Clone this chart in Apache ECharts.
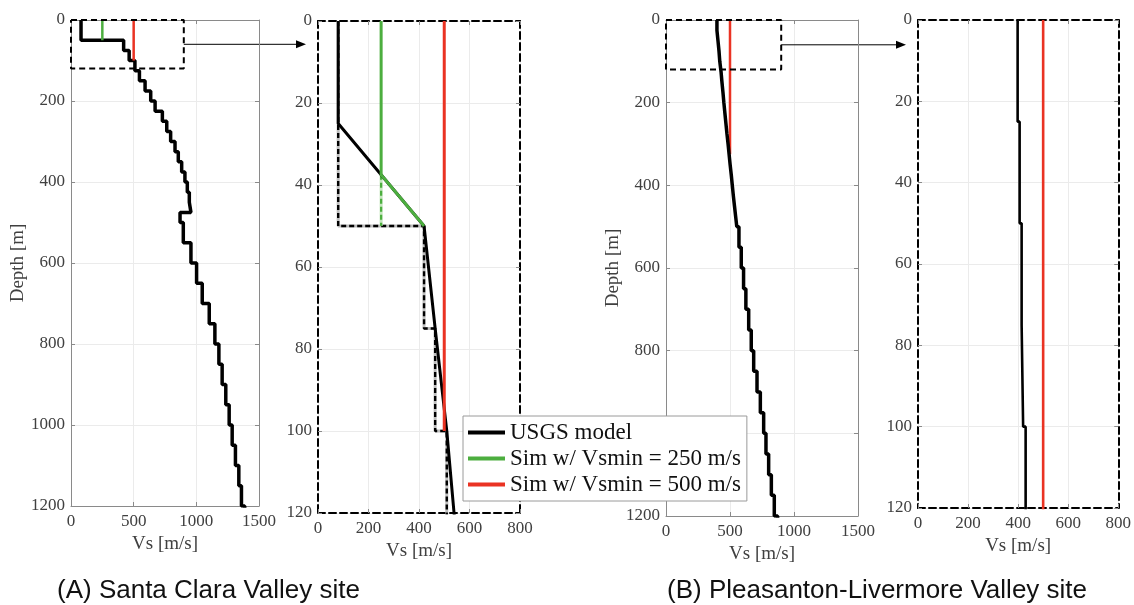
<!DOCTYPE html>
<html>
<head>
<meta charset="utf-8">
<script src="https://cdn.jsdelivr.net/npm/echarts@6/dist/echarts.min.js"></script>
<style>
  html, body { margin: 0; padding: 0; background: #fff; }
  #chart { width: 1134px; height: 605px; }
</style>
</head>
<body>
<div id="chart"></div>
<script>
// ---- Santa Clara Valley: USGS layered Vs profile (layer top depth [m], Vs [m/s]) ----
const scvLayerTop = [0, 50, 75, 100, 125, 150, 175, 200, 225, 250, 275, 300, 325, 350, 375, 400,
  425, 450, 475, 500, 550, 600, 650, 700, 750, 800, 850, 900, 950, 1000, 1050, 1100, 1150, 1200];
const scvLayerVs = [80, 420, 464, 510, 546, 591, 636, 671, 729, 764, 795, 830, 856, 883, 909, 928,
  944, 957, 870, 896, 957, 1002, 1047, 1103, 1148, 1180, 1206, 1235, 1262, 1286, 1312, 1339, 1360, 1386];
// interpolated near-surface profile used in the simulation grid
const scvInterpDepth = [0, 25, 50, 75, 100, 125];
const scvInterpVs = [80, 80, 420, 464, 510, 546];
// simulations with a minimum Vs floor
const scvSim250Depth = [0, 50];
const scvSim250Vs = [250, 250];
const scvSim250InterpDepth = [0, 37.5, 50];
const scvSim250InterpVs = [250, 250, 420];
const scvSim250StepDepth = [37.5, 50];
const scvSim250StepVs = [250, 250];
const scvSim500Depth = [0, 100];
const scvSim500Vs = [500, 500];

// ---- Pleasanton-Livermore Valley: USGS layered Vs profile ----
const plvLayerTop = [0, 25, 50, 75, 100, 125, 150, 175, 200, 225, 250, 275, 300, 325, 350, 375, 400,
  425, 450, 475, 500, 550, 600, 650, 700, 750, 800, 850, 900, 950, 1000, 1050, 1100, 1150, 1200];
const plvLayerVs = [398, 406, 414, 420, 430, 437, 445, 452, 460, 468, 476, 485, 493, 501, 510, 518, 526,
  535, 544, 553, 570, 588, 606, 624, 646, 666, 685, 711, 737, 763, 781, 802, 823, 846, 872];
const plvSim500Depth = [0, 325];
const plvSim500Vs = [500, 500];

// zoom window drawn on the full-depth panels
const zoomWinVs = [0, 900];
const zoomWinDepth = [0, 120];

// axis ranges / ticks
const fullVsTicks = { max: 1500, interval: 500 };
const fullDepthTicks = { max: 1200, interval: 200 };
const zoomVsTicks = { max: 800, interval: 200 };
const zoomDepthTicks = { max: 120, interval: 20 };

const captions = ['(A) Santa Clara Valley site', '(B) Pleasanton-Livermore Valley site'];
const legendNames = ['USGS model', 'Sim w/ Vsmin = 250 m/s', 'Sim w/ Vsmin = 500 m/s'];

const GREEN = '#4cae3f';
const RED = '#ea3323';
const SERIF = 'Liberation Serif';

function pairs(xs, ys) { return xs.map((x, i) => [x, ys[i]]); }
function stepPath(tops, vs, lastBottom) {
  const pts = [];
  for (let i = 0; i < tops.length; i++) {
    const bot = i + 1 < tops.length ? tops[i + 1] : lastBottom;
    pts.push([vs[i], tops[i]], [vs[i], bot]);
  }
  return pts;
}
function boxPath(xr, yr) {
  return [[xr[0], yr[0]], [xr[1], yr[0]], [xr[1], yr[1]], [xr[0], yr[1]], [xr[0], yr[0]]];
}

const grids = [
  { left: 71, top: 20, width: 188, height: 486 },
  { left: 318, top: 21, width: 202, height: 492 },
  { left: 666, top: 20, width: 192, height: 496 },
  { left: 918, top: 20, width: 201, height: 488 }
];

const solidFrame = { lineStyle: { color: '#8a8a8a', width: 1 } };
const dashedFrame = { lineStyle: { color: '#000', width: 2, type: [7, 4] } };
const tick = { inside: true, length: 4, lineStyle: { color: '#8a8a8a' } };
const grid = { show: true, lineStyle: { color: '#ebebeb', width: 1 } };
const tickLabel = { fontFamily: SERIF, fontSize: 17, color: '#404040', formatter: v => String(v) };

function frameLine(frame) { return Object.assign({ show: true, onZero: false }, frame); }

function xAxes(gi, ticks, frame, nameGap) {
  return [
    { type: 'value', gridIndex: gi, position: 'bottom', min: 0, max: ticks.max, interval: ticks.interval,
      axisLine: frameLine(frame), axisTick: tick, splitLine: grid,
      axisLabel: Object.assign({ margin: 7 }, tickLabel),
      name: 'Vs [m/s]', nameLocation: 'middle', nameGap: nameGap,
      nameTextStyle: { fontFamily: SERIF, fontSize: 19, color: '#404040' } },
    { type: 'value', gridIndex: gi, position: 'top', min: 0, max: ticks.max, interval: ticks.interval,
      axisLine: frameLine(frame), axisTick: tick, splitLine: { show: false },
      axisLabel: { show: false } }
  ];
}
function yAxes(gi, ticks, frame, name, nameGap) {
  return [
    { type: 'value', gridIndex: gi, position: 'left', inverse: true, min: 0, max: ticks.max, interval: ticks.interval,
      axisLine: frameLine(frame), axisTick: tick, splitLine: grid,
      axisLabel: Object.assign({ margin: 6 }, tickLabel),
      name: name, nameLocation: 'middle', nameGap: nameGap, nameRotate: 90,
      nameTextStyle: { fontFamily: SERIF, fontSize: 19, color: '#404040' } },
    { type: 'value', gridIndex: gi, position: 'right', inverse: true, min: 0, max: ticks.max, interval: ticks.interval,
      axisLine: frameLine(frame), axisTick: tick, splitLine: { show: false },
      axisLabel: { show: false } }
  ];
}

const xAxis = [].concat(
  xAxes(0, fullVsTicks, solidFrame, 28),
  xAxes(1, zoomVsTicks, dashedFrame, 27),
  xAxes(2, fullVsTicks, solidFrame, 29),
  xAxes(3, zoomVsTicks, dashedFrame, 27)
);
const yAxis = [].concat(
  yAxes(0, fullDepthTicks, solidFrame, 'Depth [m]', 32),
  yAxes(1, zoomDepthTicks, dashedFrame, '', 32),
  yAxes(2, fullDepthTicks, solidFrame, 'Depth [m]', 35),
  yAxes(3, zoomDepthTicks, dashedFrame, '', 32)
);

// panel p uses xAxis 2p and yAxis 2p
function line(p, data, color, width, extra) {
  return Object.assign({
    type: 'line', xAxisIndex: 2 * p, yAxisIndex: 2 * p, data: data,
    symbol: 'none', showSymbol: false, silent: true, animation: false,
    lineStyle: { color: color, width: width }, itemStyle: { color: color }
  }, extra || {});
}

const series = [
  // (A) full depth
  line(0, stepPath(scvLayerTop, scvLayerVs, 1250), '#000', 3.5, { name: legendNames[0] }),
  line(0, pairs(scvSim250Vs, scvSim250Depth), GREEN, 2.5, { name: legendNames[1] }),
  line(0, pairs(scvSim500Vs, scvSim500Depth), RED, 2.5, { name: legendNames[2] }),
  line(0, boxPath(zoomWinVs, zoomWinDepth), '#000', 2, { clip: false, lineStyle: { color: '#000', width: 2, type: [6, 4] } }),

  // (A) top 120 m
  line(1, stepPath(scvLayerTop, scvLayerVs, 1250), '#bdbdbd', 3),
  line(1, stepPath(scvLayerTop, scvLayerVs, 1250), '#000', 2.4, { lineStyle: { color: '#000', width: 2.4, type: [5, 3] } }),
  line(1, pairs(scvSim250StepVs, scvSim250StepDepth), '#c4e6bd', 3),
  line(1, pairs(scvSim250StepVs, scvSim250StepDepth), GREEN, 2.2, { lineStyle: { color: GREEN, width: 2.2, type: [5, 3] } }),
  line(1, pairs(scvInterpVs, scvInterpDepth), '#000', 3, { name: legendNames[0] }),
  line(1, pairs(scvSim250InterpVs, scvSim250InterpDepth), GREEN, 3, { name: legendNames[1] }),
  line(1, pairs(scvSim500Vs, scvSim500Depth), RED, 3, { name: legendNames[2] }),

  // (B) full depth
  line(2, pairs(plvSim500Vs, plvSim500Depth), RED, 2.5, { name: legendNames[2] }),
  line(2, stepPath(plvLayerTop, plvLayerVs, 1250), '#000', 3.5, { name: legendNames[0] }),
  line(2, boxPath(zoomWinVs, zoomWinDepth), '#000', 2, { clip: false, lineStyle: { color: '#000', width: 2, type: [6, 4] } }),

  // (B) top 120 m
  line(3, stepPath(plvLayerTop, plvLayerVs, 1250), '#000', 2.6, { name: legendNames[0] }),
  line(3, pairs(plvSim500Vs, plvSim500Depth), RED, 2.6, { name: legendNames[2] })
];

const chart = echarts.init(document.getElementById('chart'), null, { renderer: 'canvas' });
chart.setOption({
  animation: false,
  backgroundColor: '#fff',
  grid: grids,
  xAxis: xAxis,
  yAxis: yAxis,
  legend: {
    data: legendNames.map(n => ({ name: n, icon: 'rect' })),
    orient: 'vertical', left: 463, top: 416,
    itemWidth: 37, itemHeight: 4, itemGap: 3,
    padding: [5, 6, 5, 5],
    backgroundColor: '#fff', borderColor: '#9a9a9a', borderWidth: 1,
    selectedMode: false,
    textStyle: { fontFamily: SERIF, fontSize: 23, color: '#111' }
  },
  series: series
});

// zoom arrows from each window to its enlarged panel, plus panel captions
function arrow(fromGrid, toGrid) {
  const start = chart.convertToPixel({ gridIndex: fromGrid }, [zoomWinVs[1], (zoomWinDepth[0] + zoomWinDepth[1]) / 2]);
  const tipX = chart.convertToPixel({ gridIndex: toGrid }, [0, 0])[0] - 12;
  const y = start[1];
  return [
    { type: 'line', shape: { x1: start[0], y1: y, x2: tipX - 8, y2: y }, style: { stroke: '#000', lineWidth: 1 } },
    { type: 'polygon', shape: { points: [[tipX, y], [tipX - 10, y - 4], [tipX - 10, y + 4]] }, style: { fill: '#000' } }
  ];
}
chart.setOption({
  graphic: [].concat(
    arrow(0, 1),
    arrow(2, 3),
    [
      { type: 'text', x: 57, y: 591, style: { text: captions[0], fontFamily: 'Liberation Sans', fontSize: 26, fill: '#111', verticalAlign: 'middle' } },
      { type: 'text', x: 667, y: 591, style: { text: captions[1], fontFamily: 'Liberation Sans', fontSize: 26, fill: '#111', verticalAlign: 'middle' } }
    ]
  )
});
</script>
</body>
</html>
